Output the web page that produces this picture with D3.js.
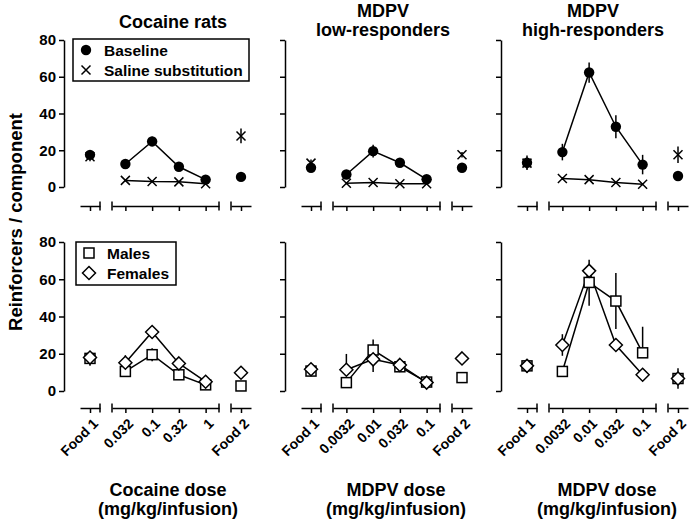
<!DOCTYPE html>
<html>
<head>
<meta charset="utf-8">
<script src="https://cdn.jsdelivr.net/npm/d3@7"></script>
<style>
  html, body { margin: 0; padding: 0; background: #fff; }
  svg { display: block; font-family: "Liberation Sans", Arial, Helvetica, sans-serif; font-weight: bold; }
</style>
</head>
<body>
<div id="chart"></div>
<script>
// ---------------- DATA ----------------
const panelTitles = [["Cocaine rats"], ["MDPV", "low-responders"], ["MDPV", "high-responders"]];
const doseLabels = [
  ["0.032", "0.1", "0.32", "1"],
  ["0.0032", "0.01", "0.032", "0.1"],
  ["0.0032", "0.01", "0.032", "0.1"]
];
const foodLabels = ["Food 1", "Food 2"];
const xTitles = ["Cocaine dose", "MDPV dose", "MDPV dose"];
const xUnits = "(mg/kg/infusion)";
const yTitle = "Reinforcers / component";
const yTicks = [0, 20, 40, 60, 80];
const topLegend = ["Baseline", "Saline substitution"];
const bottomLegend = ["Males", "Females"];

// values per panel: [Food 1, dose1, dose2, dose3, dose4, Food 2]
const baselineVals = [
  [17.5, 12.5, 24.8, 11.0, 4.0, 5.5],
  [10.5, 6.8, 19.5, 13.2, 4.2, 10.5],
  [13.2, 19.0, 62.3, 32.8, 12.2, 6.0]
];
const baselineErr = [
  [2.0, 1.5, 2.5, 1.2, 1.0, 1.0],
  [1.5, 1.5, 3.5, 1.0, 1.0, 1.5],
  [4.0, 4.5, 5.5, 6.3, 5.3, 1.5]
];
const salineVals = [
  [16.5, 3.6, 3.0, 2.8, 1.8, 27.8],
  [13.0, 2.0, 2.5, 1.8, 1.8, 17.5],
  [13.0, 4.6, 4.0, 2.4, 1.5, 17.6]
];
const salineErr = [
  [2.5, 0.5, 0.5, 0.5, 0.5, 4.0],
  [2.0, 0.5, 0.5, 0.5, 0.5, 1.5],
  [3.0, 0.8, 0.5, 0.5, 0.5, 4.5]
];
const malesVals = [
  [17.5, 10.5, 19.5, 8.7, 3.3, 2.7],
  [10.7, 4.5, 22.0, 13.0, 4.8, 7.2],
  [13.5, 10.5, 58.3, 48.3, 20.5, 6.7]
];
const malesErrUp = [
  [4.0, 1.5, 3.5, 1.0, 0.5, 0.5],
  [2.0, 1.0, 5.7, 1.5, 1.0, 2.0],
  [3.5, 2.5, 2.0, 15.0, 14.0, 5.5]
];
const malesErrDown = [
  [4.0, 1.5, 3.5, 1.0, 0.5, 0.5],
  [2.0, 1.0, 0.0, 1.5, 1.0, 2.0],
  [3.5, 2.5, 12.5, 15.0, 0.0, 5.5]
];
const femalesVals = [
  [18.0, 15.2, 31.7, 14.8, 5.0, 9.8],
  [11.7, 11.4, 17.0, 14.0, 4.5, 17.5],
  [13.5, 24.7, 64.5, 24.7, 8.7, 6.7]
];
const femalesErrUp = [
  [3.0, 4.0, 2.5, 1.0, 1.0, 1.0],
  [3.0, 8.5, 1.0, 1.5, 1.0, 3.5],
  [3.5, 5.8, 6.0, 1.0, 1.0, 3.0]
];
const femalesErrDown = [
  [3.0, 4.0, 2.5, 1.0, 1.0, 1.0],
  [3.0, 0.0, 6.8, 1.5, 1.0, 3.5],
  [3.5, 5.8, 2.0, 1.0, 1.0, 3.0]
];

// ---------------- LAYOUT ----------------
const W = 690, H = 523;
const panelX = [64, 285, 501];          // y-axis positions
const rows = [
  { y0: 187, y80: 40, axisY: 206 },
  { y0: 391, y80: 242, axisY: 408 }
];
const seg = { f1: [16, 36], dose: [48, 155], f2: [167, 187] };
const titleCX = [173, 383, 593];
const xTitleCX = [168, 396, 607];
const SW = 1.5;
const FONT = "'Liberation Sans', Arial, sans-serif";

const svg = d3.select("#chart").append("svg").attr("width", W).attr("height", H);

function makeX(p) {
  const ax = panelX[p];
  const f1 = d3.scalePoint().domain([foodLabels[0]]).range([ax + seg.f1[0], ax + seg.f1[1]]).padding(0.5);
  const ds = d3.scalePoint().domain(doseLabels[p]).range([ax + seg.dose[0], ax + seg.dose[1]]).padding(0.5);
  const f2 = d3.scalePoint().domain([foodLabels[1]]).range([ax + seg.f2[0], ax + seg.f2[1]]).padding(0.5);
  const pos = i => i === 0 ? f1(foodLabels[0]) : (i === 5 ? f2(foodLabels[1]) : ds(doseLabels[p][i - 1]));
  return { f1, ds, f2, pos };
}

function drawXAxis(g, xs, axisY, withLabels) {
  const parts = [
    { s: xs.f1, caps: [false, true] },
    { s: xs.ds, caps: [true, true] },
    { s: xs.f2, caps: [true, false] }
  ];
  parts.forEach(pt => {
    const ag = g.append("g").attr("transform", `translate(0,${axisY})`)
      .call(d3.axisBottom(pt.s).tickSize(5).tickSizeOuter(0));
    ag.select(".domain").attr("stroke", "#000").attr("stroke-width", SW);
    ag.selectAll(".tick line").attr("stroke", "#000").attr("stroke-width", SW);
    const r = pt.s.range();
    pt.caps.forEach((c, k) => {
      if (c) ag.append("line").attr("x1", r[k]).attr("x2", r[k]).attr("y1", -4.5).attr("y2", 4.5)
        .attr("stroke", "#000").attr("stroke-width", SW);
    });
    const t = ag.selectAll(".tick text");
    if (withLabels) {
      t.attr("x", 0).attr("y", 0).attr("dy", "0.35em")
        .attr("transform", "translate(5,13) rotate(-45)")
        .attr("text-anchor", "end")
        .attr("font-size", 14).attr("font-weight", "bold").attr("font-family", FONT)
        .attr("fill", "#000");
    } else {
      t.remove();
    }
  });
}

function drawYAxis(g, p, y) {
  const ag = g.append("g").attr("transform", `translate(${panelX[p]},0)`)
    .call(d3.axisLeft(y).tickValues(yTicks).tickSize(5).tickSizeOuter(0).tickPadding(3)
      .tickFormat(p === 0 ? d3.format("d") : () => ""));
  ag.select(".domain").attr("stroke", "#000").attr("stroke-width", SW);
  ag.selectAll(".tick line").attr("stroke", "#000").attr("stroke-width", SW);
  ag.selectAll(".tick text").attr("font-size", 15).attr("font-weight", "bold")
    .attr("font-family", FONT).attr("fill", "#000");
}

function errBars(g, xs, y, vals, up, down) {
  g.selectAll(null).data(vals).enter().append("line")
    .attr("x1", (d, i) => xs.pos(i)).attr("x2", (d, i) => xs.pos(i))
    .attr("y1", (d, i) => y(d + up[i])).attr("y2", (d, i) => y(d - down[i]))
    .attr("stroke", "#000").attr("stroke-width", SW);
}

function connLine(g, xs, y, vals) {
  const pts = vals.map((d, i) => [xs.pos(i), y(d)]).slice(1, 5);
  g.append("path").attr("d", d3.line()(pts)).attr("fill", "none")
    .attr("stroke", "#000").attr("stroke-width", SW);
}

const sym = {
  circle: g => g.append("circle").attr("r", 5.2).attr("fill", "#000"),
  cross: g => g.append("path").attr("d", "M-4.5,-4.5L4.5,4.5M-4.5,4.5L4.5,-4.5").attr("stroke", "#000").attr("stroke-width", SW).attr("fill", "none"),
  square: g => g.append("rect").attr("x", -5).attr("y", -5).attr("width", 10).attr("height", 10).attr("fill", "#fff").attr("stroke", "#000").attr("stroke-width", SW),
  diamond: g => g.append("path").attr("d", "M0,-6.5L6.5,0L0,6.5L-6.5,0Z").attr("fill", "#fff").attr("stroke", "#000").attr("stroke-width", SW)
};

function markers(g, xs, y, vals, kind) {
  vals.forEach((d, i) => {
    const m = g.append("g").attr("transform", `translate(${xs.pos(i)},${y(d)})`);
    sym[kind](m);
  });
}

for (let p = 0; p < 3; p++) {
  const xs = makeX(p);
  // top row
  {
    const r = rows[0];
    const y = d3.scaleLinear().domain([0, 80]).range([r.y0, r.y80]);
    const g = svg.append("g");
    drawYAxis(g, p, y);
    drawXAxis(g, xs, r.axisY, false);
    errBars(g, xs, y, salineVals[p], salineErr[p], salineErr[p]);
    errBars(g, xs, y, baselineVals[p], baselineErr[p], baselineErr[p]);
    connLine(g, xs, y, salineVals[p]);
    connLine(g, xs, y, baselineVals[p]);
    markers(g, xs, y, salineVals[p], "cross");
    markers(g, xs, y, baselineVals[p], "circle");
  }
  // bottom row
  {
    const r = rows[1];
    const y = d3.scaleLinear().domain([0, 80]).range([r.y0, r.y80]);
    const g = svg.append("g");
    drawYAxis(g, p, y);
    drawXAxis(g, xs, r.axisY, true);
    errBars(g, xs, y, malesVals[p], malesErrUp[p], malesErrDown[p]);
    errBars(g, xs, y, femalesVals[p], femalesErrUp[p], femalesErrDown[p]);
    connLine(g, xs, y, malesVals[p]);
    connLine(g, xs, y, femalesVals[p]);
    markers(g, xs, y, malesVals[p], "square");
    markers(g, xs, y, femalesVals[p], "diamond");
  }
  // panel title
  const lines = panelTitles[p];
  const tt = svg.append("text").attr("text-anchor", "middle").attr("font-size", 18).attr("fill", "#000");
  if (lines.length === 1) {
    tt.append("tspan").attr("x", titleCX[p]).attr("y", 28).text(lines[0]);
  } else {
    tt.append("tspan").attr("x", titleCX[p]).attr("y", 17).text(lines[0]);
    tt.append("tspan").attr("x", titleCX[p]).attr("y", 36).text(lines[1]);
  }
  // x title
  const xt = svg.append("text").attr("text-anchor", "middle").attr("font-size", 18).attr("fill", "#000");
  xt.append("tspan").attr("x", xTitleCX[p]).attr("y", 496).text(xTitles[p]);
  xt.append("tspan").attr("x", xTitleCX[p]).attr("y", 515).text(xUnits);
}

// y-axis title
svg.append("text").attr("transform", "translate(22,222) rotate(-90)").attr("text-anchor", "middle")
  .attr("font-size", 18.5).attr("fill", "#000").text(yTitle);

// legends
function legend(x, y, w, h, entries, kinds) {
  const g = svg.append("g");
  g.append("rect").attr("x", x).attr("y", y).attr("width", w).attr("height", h)
    .attr("fill", "#fff").attr("stroke", "#000").attr("stroke-width", SW);
  entries.forEach((e, i) => {
    const cy = y + 11 + i * 20;
    const m = g.append("g").attr("transform", `translate(${x + 13},${cy})`);
    sym[kinds[i]](m);
    g.append("text").attr("x", x + 31).attr("y", cy).attr("dy", "0.36em")
      .attr("font-size", 15.5).attr("fill", "#000").text(e);
  });
}
legend(73, 39, 176, 42, topLegend, ["circle", "cross"]);
legend(76, 242, 100, 43, bottomLegend, ["square", "diamond"]);
</script>
</body>
</html>
